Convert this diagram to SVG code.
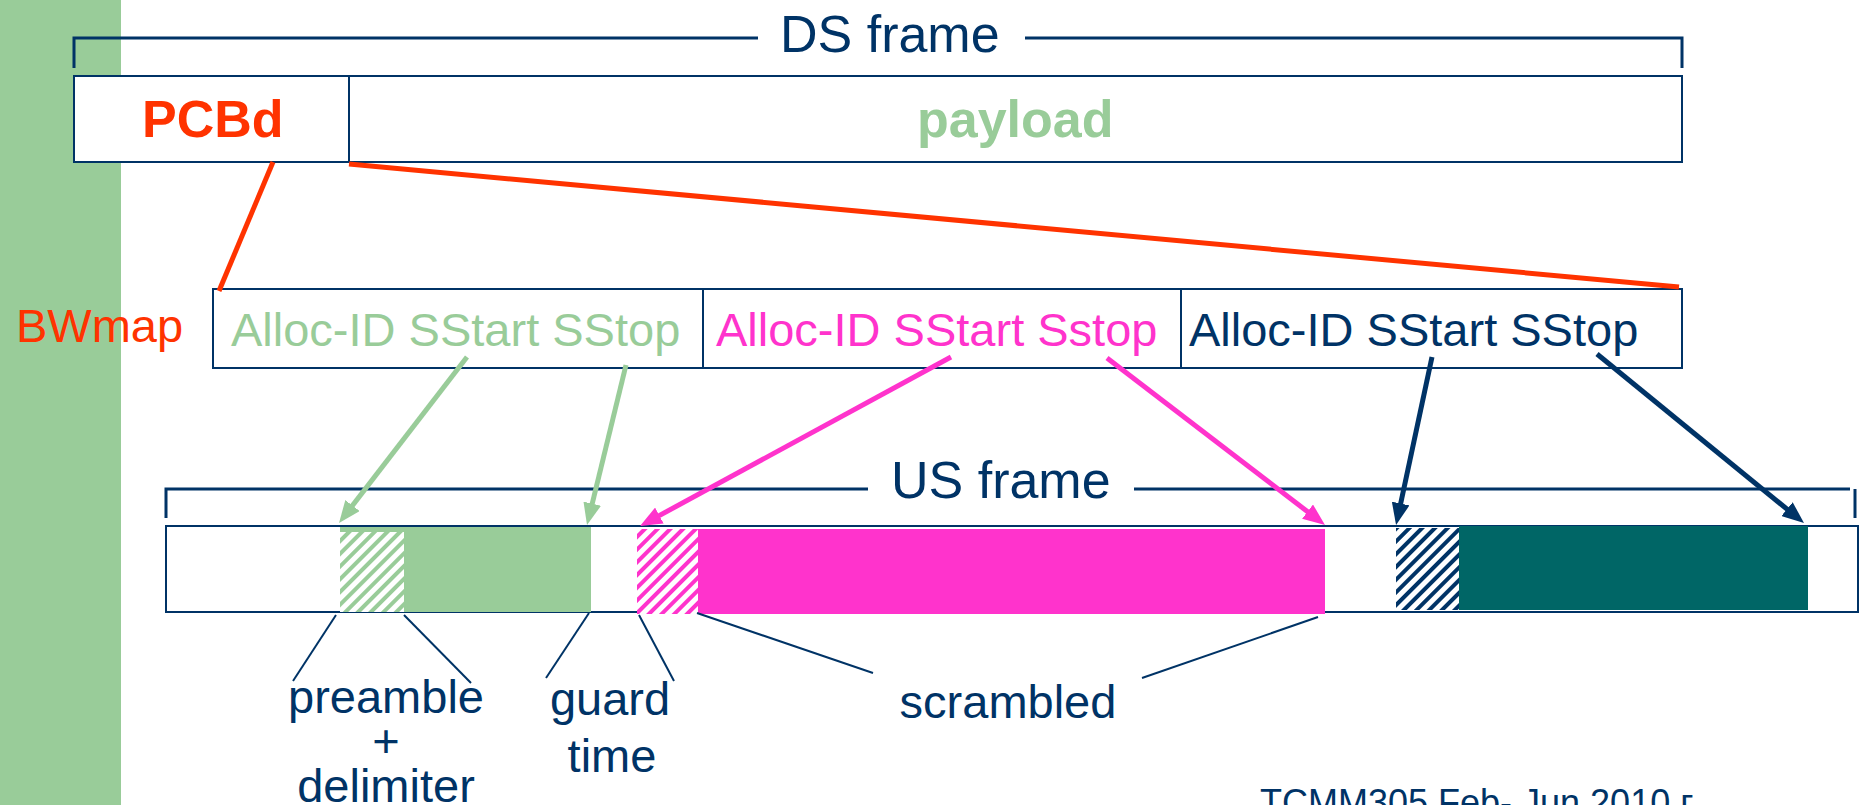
<svg xmlns="http://www.w3.org/2000/svg" width="1862" height="805" viewBox="0 0 1862 805">
<style>
.t{font-family:"Liberation Sans",Arial,sans-serif}
.navy{fill:#003366}
.box{fill:#ffffff;stroke:#003366;stroke-width:2}
.brk{fill:none;stroke:#003366;stroke-width:3}
.lead{fill:none;stroke:#003366;stroke-width:2}
.big{font-size:52px}
.mid{font-size:47px}
</style>
<defs>
<pattern id="hG" patternUnits="userSpaceOnUse" width="9" height="9" patternTransform="rotate(45)">
<rect width="9" height="9" fill="#ffffff"/><rect width="4" height="9" fill="#99CC99"/>
</pattern>
<pattern id="hM" patternUnits="userSpaceOnUse" width="9" height="9" patternTransform="rotate(45)">
<rect width="9" height="9" fill="#ffffff"/><rect width="4" height="9" fill="#FF33CC"/>
</pattern>
<pattern id="hN" patternUnits="userSpaceOnUse" width="9" height="9" patternTransform="rotate(45)">
<rect width="9" height="9" fill="#ffffff"/><rect width="4" height="9" fill="#003366"/>
</pattern>
<marker id="aG" markerUnits="userSpaceOnUse" viewBox="0 0 22 18" refX="6" refY="9" markerWidth="22" markerHeight="18" orient="auto"><path d="M0,0 L22,9 L0,18 z" fill="#99CC99"/></marker>
<marker id="aM" markerUnits="userSpaceOnUse" viewBox="0 0 22 18" refX="6" refY="9" markerWidth="22" markerHeight="18" orient="auto"><path d="M0,0 L22,9 L0,18 z" fill="#FF33CC"/></marker>
<marker id="aN" markerUnits="userSpaceOnUse" viewBox="0 0 22 18" refX="6" refY="9" markerWidth="22" markerHeight="18" orient="auto"><path d="M0,0 L22,9 L0,18 z" fill="#003366"/></marker>
</defs>
<rect width="1862" height="805" fill="#ffffff"/>
<rect id="side-bar" x="0" y="0" width="121" height="805" fill="#99CC99"/>

<g id="ds-frame">
<polyline class="brk" points="74,68 74,38 758,38"/>
<polyline class="brk" points="1025,38 1682,38 1682,68"/>
<text class="t big navy" x="780" y="52">DS frame</text>
</g>

<g id="ds-box">
<rect class="box" x="74" y="76" width="1608" height="86" fill="none"/>
<line x1="349" y1="76" x2="349" y2="162" stroke="#003366" stroke-width="2"/>
<text class="t big" x="142" y="137" font-weight="bold" fill="#FF3300">PCBd</text>
<text class="t big" x="917" y="137" font-weight="bold" fill="#99CC99">payload</text>
</g>

<g id="bwmap-label">
<text class="t mid" x="16" y="342" fill="#FF3300">BWmap</text>
</g>

<g id="bwmap">
<rect class="box" x="213" y="289" width="1469" height="79"/>
<line x1="703" y1="289" x2="703" y2="368" stroke="#003366" stroke-width="2"/>
<line x1="1181" y1="289" x2="1181" y2="368" stroke="#003366" stroke-width="2"/>
<text class="t mid" x="231" y="346" fill="#99CC99">Alloc-ID SStart SStop</text>
<text class="t mid" x="716" y="346" fill="#FF33CC">Alloc-ID SStart Sstop</text>
<text class="t mid" x="1189" y="346" fill="#003366">Alloc-ID SStart SStop</text>
</g>

<g id="us-frame">
<polyline class="brk" points="166,518 166,489 868,489"/>
<polyline class="brk" points="1134,489 1850,489"/>
<line x1="1855" y1="489" x2="1855" y2="518" stroke="#003366" stroke-width="3"/>
<text class="t big navy" x="891" y="498">US frame</text>
</g>

<g id="us-box">
<rect class="box" x="166" y="526" width="1692" height="86"/>
<rect x="340" y="527" width="251" height="85" fill="#99CC99"/>
<rect x="340" y="532" width="64" height="80" fill="url(#hG)"/>
<rect x="637" y="529" width="61" height="85" fill="url(#hM)"/>
<rect x="698" y="529" width="627" height="85" fill="#FF33CC"/>
<rect x="1396" y="528" width="63" height="82" fill="url(#hN)"/>
<rect x="1459" y="526" width="349" height="84" fill="#006666"/>
</g>

<g id="connectors">
<line x1="273" y1="162" x2="219" y2="291" stroke="#FF3300" stroke-width="5"/>
<line x1="349" y1="164" x2="1679" y2="287" stroke="#FF3300" stroke-width="5"/>
<line x1="467" y1="357" x2="348.8" y2="510.3" stroke="#99CC99" stroke-width="5" marker-end="url(#aG)"/>
<line x1="626" y1="365" x2="590.8" y2="509.5" stroke="#99CC99" stroke-width="5" marker-end="url(#aG)"/>
<line x1="951" y1="357" x2="654.1" y2="518.4" stroke="#FF33CC" stroke-width="5" marker-end="url(#aM)"/>
<line x1="1107" y1="358" x2="1312.3" y2="515.3" stroke="#FF33CC" stroke-width="5" marker-end="url(#aM)"/>
<line x1="1432" y1="357" x2="1399.4" y2="509.4" stroke="#003366" stroke-width="5" marker-end="url(#aN)"/>
<line x1="1597" y1="354" x2="1791.6" y2="512.9" stroke="#003366" stroke-width="5" marker-end="url(#aN)"/>
<line class="lead" x1="336" y1="615" x2="293" y2="681"/>
<line class="lead" x1="404" y1="615" x2="471" y2="683"/>
<line class="lead" x1="589" y1="613" x2="546" y2="678"/>
<line class="lead" x1="639" y1="615" x2="674" y2="681"/>
<line class="lead" x1="697" y1="613" x2="873" y2="673"/>
<line class="lead" x1="1318" y1="617" x2="1142" y2="678"/>
</g>

<g id="labels">
<text class="t mid navy" x="386" y="713" text-anchor="middle">preamble</text>
<text class="t mid navy" x="386" y="757" text-anchor="middle">+</text>
<text class="t mid navy" x="386" y="802" text-anchor="middle">delimiter</text>
<text class="t mid navy" x="610" y="715" text-anchor="middle">guard</text>
<text class="t mid navy" x="612" y="772" text-anchor="middle">time</text>
<text class="t mid navy" x="1008" y="718" text-anchor="middle">scrambled</text>
<text class="t navy" x="1260" y="815" font-size="36">TCMM305 Feb- Jun 2010 г.</text>
</g>
</svg>
